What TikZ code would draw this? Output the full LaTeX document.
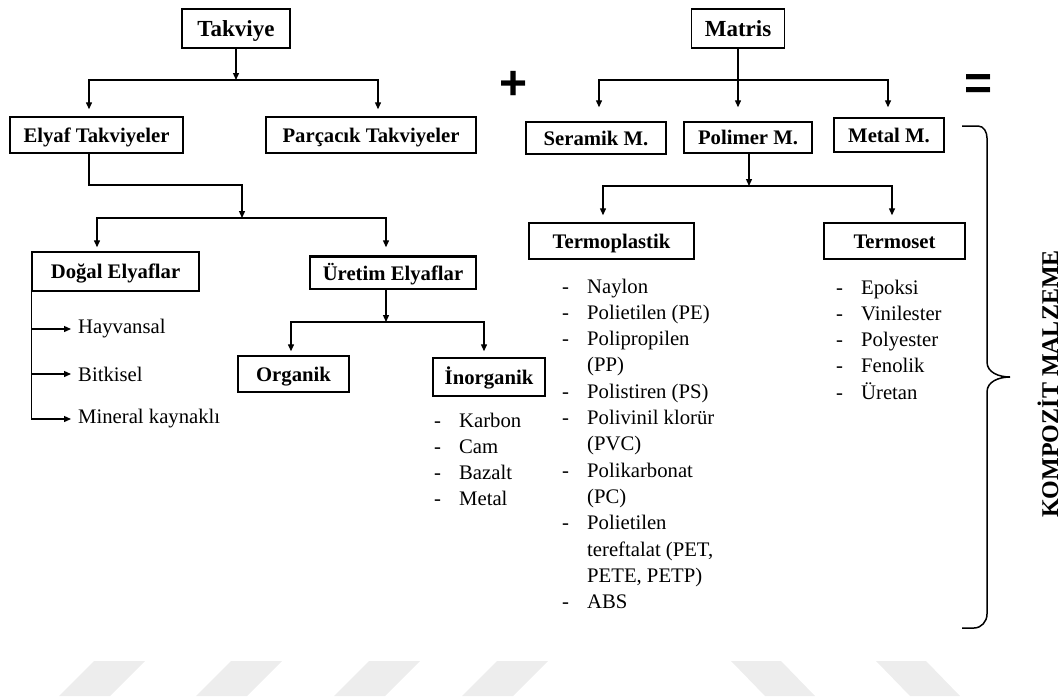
\documentclass[tikz,border=0pt]{standalone}
\usepackage{fontspec}
\setmainfont{Liberation Serif}
\newfontfamily\signfont{Liberation Sans}
\usetikzlibrary{arrows.meta}

\newcommand{\diafont}{\fontsize{20.7pt}{26.3pt}\selectfont}
\newcommand{\headfont}{\fontsize{23pt}{28pt}\selectfont}
\tikzset{
  box/.style = {draw, line width=1.4pt, inner sep=0pt, font=\diafont\bfseries,
                text height=14pt, text depth=0pt},
  head/.style = {box, font=\headfont\bfseries, text height=15.5pt},
  item/.style = {inner sep=0pt, font=\diafont},
  arr/.style = {line width=1.3pt, -{Triangle[length=7pt,width=6pt]}},
  wmark/.style = {fill=black!7}
}

\begin{document}
\begin{tikzpicture}[x=1pt, y=-1pt]
    \useasboundingbox (0,0) rectangle (1064,696);
    % watermark stripes
    \foreach \a in {59,196,334,462}
        \fill[wmark] (\a,696) -- (\a+35,661) -- (\a+86,661) -- (\a+51,696) -- cycle;
    \foreach \a in {731,876}
        \fill[wmark] (\a,661) -- (\a+50,661) -- (\a+84,696) -- (\a+34,696) -- cycle;

    % reinforcement side
    \node[head, minimum width=108pt, minimum height=39pt] (takviye) at (236,28.5) {Takviye};
    \node[box, minimum width=173pt, minimum height=36pt] (elyaf) at (96.5,135) {Elyaf Takviyeler};
    \node[box, minimum width=210pt, minimum height=36pt] (parcacik) at (371,135) {Parçacık Takviyeler};
    \node[box, minimum width=167pt, minimum height=39pt] (dogal) at (115.5,271.5) {Doğal Elyaflar};
    \node[box, minimum width=166pt, minimum height=32pt] (uretim) at (393,273) {Üretim Elyaflar};
    \draw[line width=2.8pt] (uretim.north west) -- (uretim.north east);
    \node[box, minimum width=111pt, minimum height=36pt] (organik) at (293.5,374) {Organik};
    \node[box, minimum width=112pt, minimum height=38pt] (inorganik) at (489,377) {İnorganik};

    \node[item, anchor=west] (hayvansal) at (78,329) {Hayvansal};
    \node[item, anchor=west] (bitkisel) at (78,374) {Bitkisel};
    \node[item, anchor=west] (mineral) at (78,419) {Mineral kaynaklı};
    \node[item, anchor=base west] (inlist) at (434,427) {\begin{tabular}[t]{@{}p{25pt}@{}l@{}}
        - & Karbon\\ - & Cam\\ - & Bazalt\\ - & Metal
    \end{tabular}};

    \coordinate (tkj) at (236,80);
    \draw[arr] (takviye) -- (tkj);
    \draw[arr, shorten >=7pt] (tkj) -| ([xshift=-7.5pt]elyaf.north);
    \draw[arr, shorten >=7pt] (tkj) -| ([xshift=7pt]parcacik.north);

    \coordinate (elj) at (242,218);
    \draw[arr] ([xshift=-7.5pt]elyaf.south) |- ([yshift=33pt]elj) -- (elj);
    \draw[arr, shorten >=4pt] (elj) -| ([xshift=-18.5pt]dogal.north);
    \draw[arr, shorten >=9pt] (elj) -| ([xshift=-7pt]uretim.north);

    \coordinate (urj) at (386,322);
    \draw[arr] ([xshift=-7pt]uretim.south) -- (urj);
    \draw[arr, shorten >=4pt] (urj) -| ([xshift=-2.5pt]organik.north);
    \draw[arr, shorten >=6pt] (urj) -| ([xshift=-5pt]inorganik.north);

    \draw[line width=1.3pt] (dogal.south west) -- (dogal.south west |- mineral.west);
    \draw[arr, shorten >=7pt] (dogal.south west |- hayvansal.west) -- (hayvansal.west);
    \draw[arr, shorten >=7pt] (dogal.south west |- bitkisel.west) -- (bitkisel.west);
    \draw[arr, shorten >=7pt] (dogal.south west |- mineral.west) -- (mineral.west);

    % matrix side
    \node[head, minimum width=93pt, minimum height=39pt] (matris) at (738,28.5) {Matris};
    \node[box, minimum width=140pt, minimum height=32pt] (seramik) at (596,138) {Seramik M.};
    \node[box, minimum width=128pt, minimum height=31pt] (polimer) at (748,137.5) {Polimer M.};
    \node[box, minimum width=110pt, minimum height=34pt] (metal) at (889,135) {Metal M.};
    \node[box, minimum width=165pt, minimum height=36pt] (termoplastik) at (611.5,241) {Termoplastik};
    \node[box, minimum width=141pt, minimum height=36pt] (termoset) at (894.5,241) {Termoset};

    \node[item, anchor=base west] (tplist) at (562,293) {\begin{tabular}[t]{@{}p{25pt}@{}l@{}}
        - & Naylon\\ - & Polietilen (PE)\\ - & Polipropilen\\ & (PP)\\ - & Polistiren (PS)\\
        - & Polivinil klorür\\ & (PVC)\\ - & Polikarbonat\\ & (PC)\\ - & Polietilen\\
        & tereftalat (PET,\\ & PETE, PETP)\\ - & ABS
    \end{tabular}};
    \node[item, anchor=base west] (tslist) at (836,294) {\begin{tabular}[t]{@{}p{25pt}@{}l@{}}
        - & Epoksi\\ - & Vinilester\\ - & Polyester\\ - & Fenolik\\ - & Üretan
    \end{tabular}};

    \coordinate (mtj) at (738,80);
    \draw[arr, shorten >=14pt] (matris.south) -- (matris.south |- polimer.north);
    \draw[arr, shorten >=14pt] (mtj) -| ([xshift=3pt]seramik.north);
    \draw[arr, shorten >=10pt] (mtj) -| ([xshift=-1pt]metal.north);

    \coordinate (plj) at (749,186);
    \draw[arr] ([xshift=1pt]polimer.south) -- (plj);
    \draw[arr, shorten >=7pt] (plj) -| ([xshift=-8.5pt]termoplastik.north);
    \draw[arr, shorten >=7pt] (plj) -| ([xshift=-2.5pt]termoset.north);

    % signs and result
    \node[inner sep=0pt, font=\signfont\bfseries\fontsize{48pt}{48pt}\selectfont] (plus) at (514,85) {+};
    \node[inner sep=0pt, font=\signfont\bfseries\fontsize{48pt}{48pt}\selectfont] (equals) at (978,87) {=};
    \draw[line width=1.5pt] (962,126) -- (978,126) to[out=0,in=90] (987,138) -- (987,362)
        to[out=-90,in=180] (1010,377) to[out=180,in=90] (987,392) -- (987,614)
        to[out=-90,in=0] (974,628) -- (962,628);
    \node[inner sep=0pt, rotate=90, font=\fontsize{24pt}{28pt}\selectfont\bfseries] (kompozit) at (1048,384) {KOMPOZİT MALZEME};
\end{tikzpicture}
\end{document}
